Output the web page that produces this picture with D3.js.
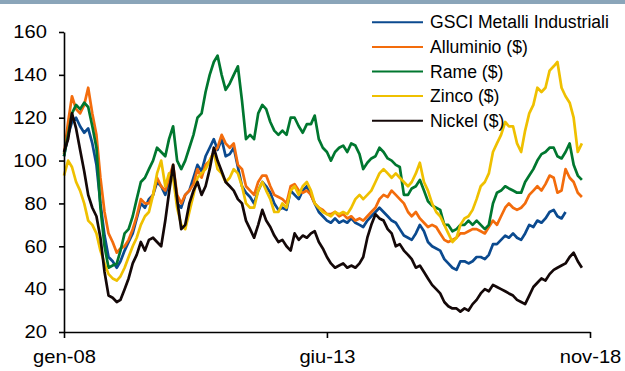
<!DOCTYPE html>
<html>
<head>
<meta charset="utf-8">
<script src="https://cdn.jsdelivr.net/npm/d3@7"></script>
<style>
  html, body { margin: 0; padding: 0; background: #ffffff; }
  svg { display: block; font-family: "Liberation Sans", Arial, sans-serif; }
</style>
</head>
<body>
<svg id="chart" width="625" height="371"></svg>
<script>
// ---- Data (monthly, starting January 2008) ----
const startYear = 2008, startMonth = 0;
const seriesNames = ["GSCI Metalli Industriali", "Alluminio ($)", "Rame ($)", "Zinco ($)", "Nickel ($)"];
const gsci = [102,112,118,120,116,113,115,108,98,80,65,55,53,50,53,58,62,66,73,80,78,82,84,90,
  88,84,90,94,80,78,84,86,92,98,95,102,106,110,105,110,102,103,106,97,88,85,83,80,
  86,90,88,85,80,77,78,77,86,84,82,86,88,84,80,76,74,72,71,73,71,72,71,73,
  71,70,69,72,74,76,78,76,74,72,71,68,65,64,63,66,70,67,62,60,59,58,54,52,
  50,49,53,53,52,53,55,55,54,56,61,61,63,65,64,66,64,63,66,70,69,72,71,73,
  76,77,74,73,76];
const alluminio = [103,118,130,124,122,126,134,122,112,92,76,66,62,57,59,60,63,68,74,82,80,80,84,92,
  88,86,92,98,84,80,84,86,89,96,92,98,100,104,106,112,108,106,108,98,96,88,86,84,
  90,93,93,88,84,83,82,80,88,89,86,85,86,84,80,78,77,75,75,76,74,75,73,74,
  72,73,72,74,76,78,82,84,83,86,84,82,80,76,74,76,73,71,69,70,69,66,63,62,
  63,64,66,66,67,68,68,67,66,69,72,70,74,78,80,78,77,78,80,84,86,88,86,89,
  93,92,85,86,96,92,90,85,83];
const rame = [102,112,122,126,124,127,125,116,106,78,60,50,51,52,58,66,68,74,82,90,92,96,100,106,
  104,102,110,116,100,96,100,106,112,120,122,132,140,146,149,140,133,136,140,144,128,110,112,110,
  122,126,124,118,114,112,114,112,120,120,116,113,117,117,121,110,106,104,100,104,106,107,104,108,
  107,103,96,99,101,102,106,104,101,100,98,97,84,84,87,88,91,86,81,79,78,77,70,70,
  67,68,70,70,72,70,72,70,68,70,80,85,86,88,87,86,85,85,90,93,96,100,103,104,
  106,106,102,101,104,108,98,93,91];
const zinco = [93,100,97,90,86,80,72,70,66,58,52,47,45,44,46,50,55,60,64,70,74,76,84,94,
  100,88,94,92,78,70,68,76,84,92,94,96,100,104,96,94,90,92,96,94,88,80,78,78,
  86,90,86,82,76,76,80,78,86,88,84,88,90,86,80,78,76,75,74,76,75,76,75,78,
  82,84,82,84,86,90,94,96,94,92,94,92,90,88,90,94,99,90,86,80,76,74,70,66,
  62,64,70,73,74,77,82,88,90,94,104,108,112,118,116,116,108,104,114,122,126,134,132,134,
  142,144,146,134,130,127,120,104,108];
const nickel = [104,110,122,115,105,95,84,78,74,64,48,37,36,34,35,40,45,52,56,62,58,63,64,62,
  60,72,85,98,82,68,70,80,86,90,84,88,96,106,100,95,90,88,86,82,80,72,68,64,
  70,77,72,69,65,62,63,60,58,66,63,65,64,66,67,62,59,55,52,50,51,52,50,51,
  50,52,55,64,70,75,73,72,68,66,60,61,58,56,54,50,51,48,45,42,40,38,34,32,
  31,31,29.5,31,30,33,35,38,40,39,42,41,40,39,38,37,35,34,33,37,41,43,45,44,
  47,49,50,51,52,55,57,53,50];
const seriesValues = [gsci, alluminio, rame, zinco, nickel];
const seriesColors = ["#0b4a8f", "#f36c0c", "#00772f", "#efc000", "#140808"];
const yTickValues = [20, 40, 60, 80, 100, 120, 140, 160];
const xTickLabels = ["gen-08", "giu-13", "nov-18"];
const xTickDates = [new Date(2008, 0, 1), new Date(2013, 5, 1), new Date(2018, 10, 1)];

// ---- Layout ----
const svg = d3.select("#chart");
const x = d3.scaleTime().domain([new Date(2008, 0, 1), new Date(2018, 10, 1)]).range([64, 590]);
const y = d3.scaleLinear().domain([20, 160]).range([332, 32]);
const stretch = 1.12;

// top band
svg.append("rect").attr("x", 0).attr("y", 0).attr("width", 625).attr("height", 4).attr("fill", "#8aa5b9");

// lines
const line = d3.line()
  .x((d, i) => x(new Date(startYear, startMonth + i, 1)))
  .y(d => y(d));
seriesValues.forEach((vals, k) => {
  svg.append("path")
    .datum(vals)
    .attr("fill", "none")
    .attr("stroke", seriesColors[k])
    .attr("stroke-width", 2.7)
    .attr("stroke-linejoin", "round")
    .attr("d", line);
});

// Y axis
const yAxis = svg.append("g").attr("transform", "translate(64,0)")
  .call(d3.axisLeft(y).tickValues(yTickValues).tickFormat(d3.format("d")).tickSize(5).tickSizeOuter(0).tickPadding(12));
yAxis.selectAll("text").attr("font-size", 18).attr("fill", "#000").attr("font-family", "Liberation Sans, Arial, sans-serif")
  .attr("x", -17 / stretch).attr("transform", `scale(${stretch},1)`);

// X axis
const xAxis = svg.append("g").attr("transform", "translate(0,332)")
  .call(d3.axisBottom(x).tickValues(xTickDates).tickFormat((d, i) => xTickLabels[i]).tickSize(6).tickSizeOuter(0).tickPadding(12));
xAxis.selectAll("text").attr("font-size", 18).attr("fill", "#000").attr("font-family", "Liberation Sans, Arial, sans-serif")
  .attr("transform", `scale(${stretch},1)`);

[yAxis, xAxis].forEach(g => {
  g.select(".domain").attr("stroke", "#000").attr("stroke-width", 1.6);
  g.selectAll(".tick line").attr("stroke", "#000").attr("stroke-width", 1.6);
});

// Legend
const legend = svg.append("g");
seriesNames.forEach((name, k) => {
  const ly = 22.3 + k * 24.6;
  legend.append("line").attr("x1", 372).attr("x2", 423).attr("y1", ly).attr("y2", ly)
    .attr("stroke", seriesColors[k]).attr("stroke-width", 2);
  legend.append("text").attr("x", 430).attr("y", ly).attr("dy", "0.35em")
    .attr("font-size", 17.6).attr("fill", "#000").text(name);
});
</script>
</body>
</html>
